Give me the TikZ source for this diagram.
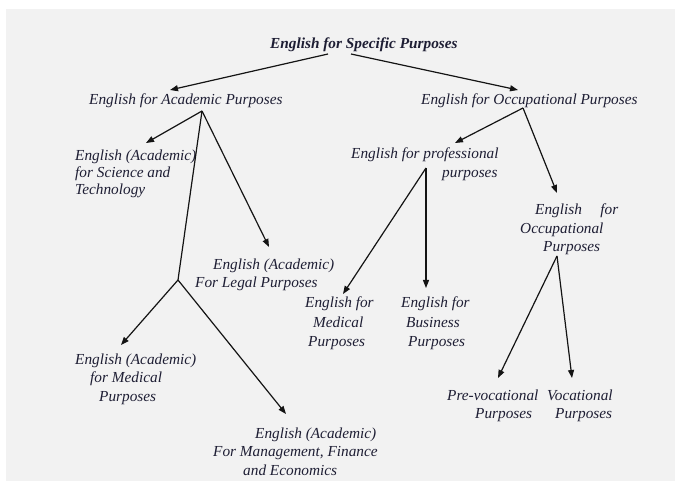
\documentclass[tikz,border=0pt]{standalone}
\usepackage{fontspec}
\setmainfont{Liberation Serif}
\usetikzlibrary{arrows.meta}
\definecolor{txt}{RGB}{30,30,52}
\definecolor{paper}{RGB}{242,242,242}
\definecolor{ink}{RGB}{20,20,20}
\tikzset{
  lbl/.style={anchor=base west, inner sep=0pt, text=txt, font=\fontsize{15.3}{18}\selectfont\itshape},
  ttl/.style={lbl, font=\fontsize{15.3}{18}\selectfont\bfseries\itshape},
  arr/.style={draw=ink, line width=1.2pt, -{Triangle[length=8pt,width=6pt]}},
  ln/.style={draw=ink, line width=1.2pt}
}
\begin{document}
\begin{tikzpicture}[x=1pt,y=-1pt]
\useasboundingbox (0,0) rectangle (680,486);
\fill[paper] (6,9) rectangle (675,481);
% texts
\node[ttl] (esp) at (270,49) {English for Specific Purposes};
\node[lbl] (eap) at (89,105) {English for Academic Purposes};
\node[lbl] (eop) at (421,105) {English for Occupational Purposes};
\node[lbl] (sci1) at (75,161) {English (Academic)};
\node[lbl] (sci2) at (75,178) {for Science and};
\node[lbl] (sci3) at (75,195) {Technology};
\node[lbl] (leg1) at (213,270) {English (Academic)};
\node[lbl] (leg2) at (195,288) {For Legal Purposes};
\node[lbl] (amed1) at (75,364) {English (Academic)};
\node[lbl] (amed2) at (90,382) {for Medical};
\node[lbl] (amed3) at (99,401) {Purposes};
\node[lbl] (mg1) at (255,438) {English (Academic)};
\node[lbl] (mg2) at (213,456) {For Management, Finance};
\node[lbl] (mg3) at (243,475) {and Economics};
\node[lbl] (pro1) at (351,159) {English for professional};
\node[lbl] (pro2) at (442,178) {purposes};
\node[lbl] (om1) at (305,308) {English for};
\node[lbl] (om2) at (313,327) {Medical};
\node[lbl] (om3) at (308,346) {Purposes};
\node[lbl] (bu1) at (401,308) {English for};
\node[lbl] (bu2) at (406,327) {Business};
\node[lbl] (bu3) at (408,346) {Purposes};
\node[lbl] (oc1) at (535,215) {\hbox to 83pt{English\hfill for}};
\node[lbl] (oc2) at (520,234) {Occupational};
\node[lbl] (oc3) at (543,252) {Purposes};
\node[lbl] (pv1) at (447,400) {Pre-vocational};
\node[lbl] (pv2) at (475,418) {Purposes};
\node[lbl] (vo1) at (547,400) {Vocational};
\node[lbl] (vo2) at (555,418) {Purposes};
% connector points
\coordinate (espL) at (328,54);
\coordinate (espR) at (351,54);
\coordinate (eapT) at (170,90);
\coordinate (eopT) at (518,90);
\coordinate (eapB) at (202,111);
\coordinate (sciT) at (146,143);
\coordinate (legT) at (269,247);
\coordinate (junc) at (178,280);
\coordinate (amedT) at (121,345);
\coordinate (mgT) at (286,414);
\coordinate (eopB) at (523,108);
\coordinate (proT) at (455,143);
\coordinate (ocT) at (557,193);
\coordinate (proB) at (426,168);
\coordinate (omT) at (343,294);
\coordinate (buT) at (426,288);
\coordinate (ocB) at (557,256);
\coordinate (pvT) at (498,378);
\coordinate (voT) at (572,378);
% connectors
\draw[arr] (espL) -- (eapT);
\draw[arr] (espR) -- (eopT);
\draw[arr] (eapB) -- (sciT);
\draw[arr] (eapB) -- (legT);
\draw[ln] (eapB) -- (junc);
\draw[arr] (junc) -- (amedT);
\draw[arr] (junc) -- (mgT);
\draw[arr] (eopB) -- (proT);
\draw[arr] (eopB) -- (ocT);
\draw[arr] (proB) -- (omT);
\draw[arr] (proB) -- (buT);
\draw[arr] (ocB) -- (pvT);
\draw[arr] (ocB) -- (voT);
\end{tikzpicture}
\end{document}
